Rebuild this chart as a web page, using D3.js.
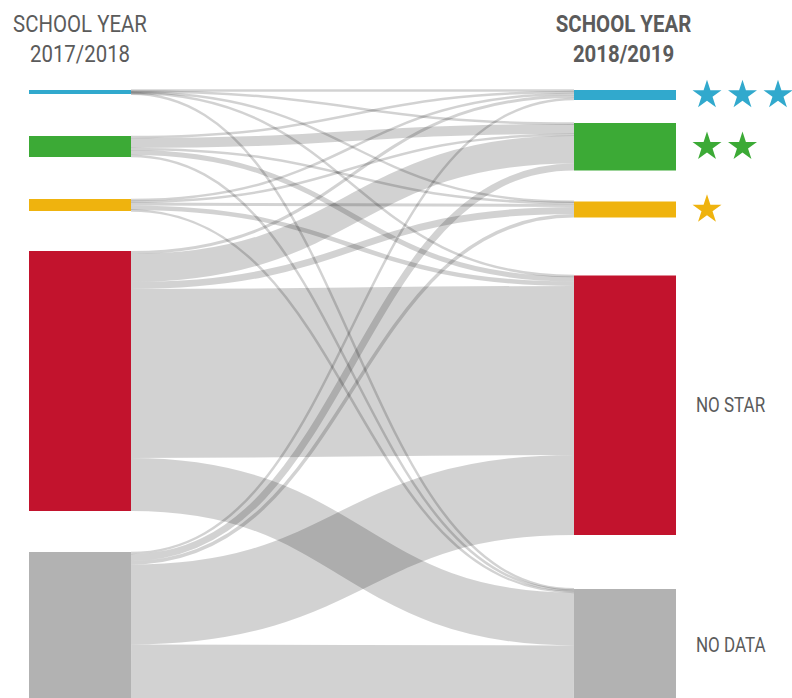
<!DOCTYPE html>
<html>
<head>
<meta charset="utf-8">
<script src="https://cdn.jsdelivr.net/npm/d3@7"></script>
<style>
    body { margin: 0; background: #fff; }
    svg text { font-family: "Roboto", "Liberation Sans", sans-serif; fill: #5b5b5b; }
</style>
</head>
<body>
<div id="chart"></div>
<script>
// Categories (the same for both school years)
const categories = ['3 stars', '2 stars', '1 star', 'No star', 'No data'];
const categoryLabels = ['', '', '', 'NO STAR', 'NO DATA'];
const starCounts = [3, 2, 1, 0, 0];
const categoryColors = ['#31a9cd', '#3caa36', '#efb30e', '#c2132d', '#b2b2b2'];

// Column titles
const columnTitles = ['SCHOOL YEAR', 'SCHOOL YEAR'];
const years = ['2017/2018', '2018/2019'];

// Number of schools moving from a 2017/2018 category to each 2018/2019 category
// (order of targets: 3 stars, 2 stars, 1 star, no star, no data)
const fromThreeStars = [1, 1, 0.5, 1, 0.5];
const fromTwoStars = [2, 10, 2, 5, 2];
const fromOneStar = [2, 1.5, 3, 4.5, 1];
const fromNoStar = [3, 28, 7, 169, 53];
const fromNoData = [2, 7, 3.5, 80, 55.5];

const flows = [fromThreeStars, fromTwoStars, fromOneStar, fromNoStar, fromNoData];

// Layout settings
const width = 792;
const height = 698;
const nodeWidth = 102;
const leftX = 29;
const rightX = 574;
const topY = 90;
const leftGaps = [42, 42, 40, 41];
const rightGaps = [23, 31, 58, 54];
const minLinkWidth = 2.5;
// no condensed font installed, so the text is squeezed horizontally
const condense = 0.85;

window.onload = function () {
    drawChart();
};

// Positions the nodes of one column, from top to bottom
function layoutColumn(values, x0, gaps, ky) {
    let y = topY;
    return values.map((v, i) => {
        if (i > 0) y += gaps[i - 1];
        const node = { index: i, value: v, x0: x0, x1: x0 + nodeWidth, y0: y, y1: y + ky(v) };
        y = node.y1;
        return node;
    });
}

function drawChart() {
    const n = categories.length;

    // Totals for every node
    const leftTotals = flows.map(row => d3.sum(row));
    const rightTotals = categories.map((_, j) => d3.sum(flows, row => row[j]));
    const total = d3.sum(leftTotals);

    const ky = d3.scaleLinear().domain([0, total]).range([0, 445]);

    const leftNodes = layoutColumn(leftTotals, leftX, leftGaps, ky);
    const rightNodes = layoutColumn(rightTotals, rightX, rightGaps, ky);

    // Build links, stacked at the source by target order and at the target by source order
    const links = [];
    const sourceOffset = leftNodes.map(d => d.y0);
    for (let i = 0; i < n; i++) {
        for (let j = 0; j < n; j++) {
            const w = ky(flows[i][j]);
            links.push({ source: i, target: j, width: w, ys: sourceOffset[i] + w / 2 });
            sourceOffset[i] += w;
        }
    }
    const targetOffset = rightNodes.map(d => d.y0);
    for (let j = 0; j < n; j++) {
        for (let i = 0; i < n; i++) {
            const link = links[i * n + j];
            link.yt = targetOffset[j] + link.width / 2;
            targetOffset[j] += link.width;
        }
    }

    const svg = d3.select('#chart').append('svg')
        .attr('width', width)
        .attr('height', height);

    // Links
    const linkPath = d3.linkHorizontal();
    svg.append('g')
        .selectAll('path')
        .data(links)
        .enter().append('path')
        .attr('d', d => linkPath({
            source: [leftNodes[d.source].x1, d.ys],
            target: [rightNodes[d.target].x0, d.yt]
        }))
        .attr('fill', 'none')
        .attr('stroke', '#000')
        .attr('stroke-opacity', 0.176)
        .attr('stroke-width', d => Math.max(minLinkWidth, d.width));

    // Nodes of both columns
    svg.append('g')
        .selectAll('rect')
        .data(leftNodes.concat(rightNodes))
        .enter().append('rect')
        .attr('x', d => d.x0)
        .attr('y', d => d.y0)
        .attr('width', d => d.x1 - d.x0)
        .attr('height', d => d.y1 - d.y0)
        .attr('fill', d => categoryColors[d.index]);

    // Column titles
    const titleX = [leftX + nodeWidth / 2, rightX + nodeWidth / 2 - 1.5];
    for (let c = 0; c < 2; c++) {
        const title = svg.append('text')
            .attr('transform', `translate(${titleX[c]},0) scale(${condense},1)`)
            .attr('text-anchor', 'middle')
            .attr('font-size', 24)
            .attr('font-weight', c === 1 ? 'bold' : 'normal');
        title.append('tspan').attr('x', 0).attr('y', 32).text(columnTitles[c]);
        title.append('tspan').attr('x', 0).attr('y', 62).text(years[c]);
    }

    // Stars next to the rated categories
    const star = d3.symbol().type(d3.symbolStar).size(260);
    const starX = d3.scaleLinear().domain([0, 1]).range([707, 742.5]);
    rightNodes.forEach(node => {
        const cy = (node.y0 + node.y1) / 2;
        for (let k = 0; k < starCounts[node.index]; k++) {
            svg.append('path')
                .attr('d', star)
                .attr('transform', `translate(${starX(k)},${cy})`)
                .attr('fill', categoryColors[node.index]);
        }
    });

    // Text labels for the categories without stars
    svg.append('g')
        .selectAll('text')
        .data(rightNodes.filter(d => categoryLabels[d.index] !== ''))
        .enter().append('text')
        .attr('transform', d => `translate(696,${(d.y0 + d.y1) / 2}) scale(${condense},1)`)
        .attr('dy', '0.35em')
        .attr('font-size', 20)
        .text(d => categoryLabels[d.index]);
}
</script>
</body>
</html>
